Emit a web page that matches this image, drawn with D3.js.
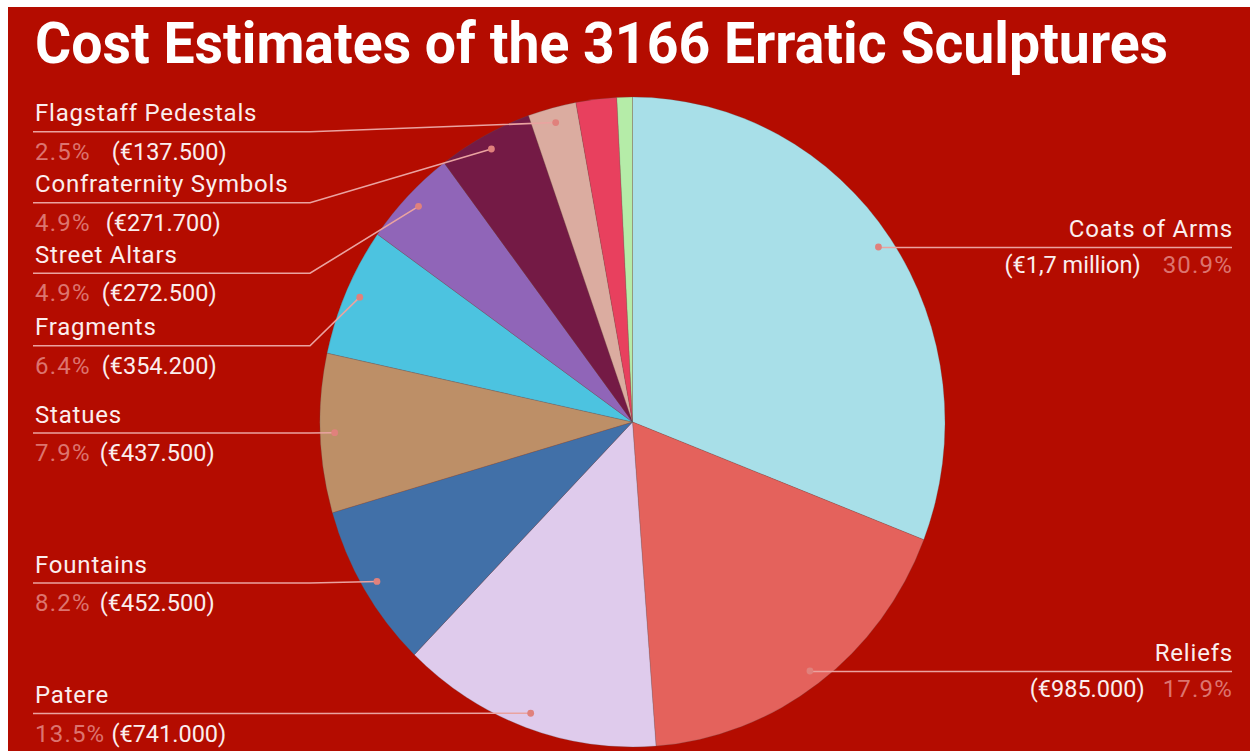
<!DOCTYPE html>
<html>
<head>
<meta charset="utf-8">
<script src="https://cdn.jsdelivr.net/npm/d3@7"></script>
<style>
  html, body { margin: 0; padding: 0; background: #fff; }
  text { font-family: Roboto, "Noto Sans", sans-serif; }
</style>
</head>
<body>
<div id="chart"></div>
<script>
// chart values
var categories = ["Coats of Arms", "Reliefs", "Patere", "Fountains", "Statues", "Fragments",
  "Street Altars", "Confraternity Symbols", "Flagstaff Pedestals", "Other (red)", "Other (green)"];
var shares = [30.9, 17.9, 13.5, 8.2, 7.9, 6.4, 4.9, 4.9, 2.5, 2.1, 0.8];
var costLabels = ["(€1,7 million)", "(€985.000)", "(€741.000)", "(€452.500)", "(€437.500)",
  "(€354.200)", "(€272.500)", "(€271.700)", "(€137.500)", "", ""];
var sliceColors = ["#a8dfe8", "#e4625c", "#dfcbec", "#4170a8", "#bd8f67", "#4cc3e0",
  "#9065b8", "#741a45", "#dbaca0", "#e8405e", "#b5eca8"];

var svgWidth = 1250;
var svgHeight = 751;

var cx = 632.5, cy = 422;
var rx = 312.5, ry = 325;
var dotR = 298;

// label layout (y of leader line), per slice index; null = no label
var labelLineY = [247.5, 671.5, 713.5, 583, 433, 345.7, 273.3, 202.7, 131.7, null, null];
var labelSide = ["right", "right", "left", "left", "left", "left", "left", "left", "left", null, null];
var valueGap = [22, 18, 6, 9, 9, 11, 11, 15, 21, 0, 0];

var data = categories.map(function(c, i) {
  return { name: c, share: shares[i], cost: costLabels[i], color: sliceColors[i],
    lineY: labelLineY[i], side: labelSide[i], gap: valueGap[i] };
});

var svg = d3.select("#chart")
  .append("svg")
  .attr("width", svgWidth)
  .attr("height", svgHeight);

svg.append("rect")
  .attr("x", 8)
  .attr("y", 7)
  .attr("width", svgWidth - 8)
  .attr("height", svgHeight - 7)
  .attr("fill", "#b40c00");

svg.append("text")
  .attr("x", 35)
  .attr("y", 63)
  .attr("font-size", "58px")
  .attr("font-weight", "bold")
  .attr("fill", "#fff")
  .attr("textLength", 1133)
  .attr("lengthAdjust", "spacingAndGlyphs")
  .text("Cost Estimates of the 3166 Erratic Sculptures");

var pie = d3.pie()
  .sort(null)
  .value(function(d) { return d.share; });

var arcs = pie(data);

var arc = d3.arc()
  .innerRadius(0)
  .outerRadius(rx);

var pieGroup = svg.append("g")
  .attr("transform", `translate(${cx}, ${cy}) scale(1, ${ry / rx})`);

pieGroup.selectAll("path")
  .data(arcs)
  .enter()
  .append("path")
  .attr("d", arc)
  .attr("fill", function(d) { return d.data.color; })
  .attr("stroke", "rgba(90,90,90,0.3)")
  .attr("stroke-width", 0.8);

// leader lines + labels
var labelled = arcs.filter(function(d) { return d.data.side; });

labelled.forEach(function(d) {
  var a = (d.startAngle + d.endAngle) / 2;
  var px = cx + dotR * Math.sin(a);
  var py = cy - dotR * (ry / rx) * Math.cos(a);
  var pts;
  if (d.data.side === "left") {
    var elbow = Math.min(310, px);
    pts = [[33, d.data.lineY], [elbow, d.data.lineY], [px, py]];
  } else {
    pts = [[px, py], [px, d.data.lineY], [1232, d.data.lineY]];
  }
  svg.append("path")
    .attr("d", d3.line()(pts))
    .attr("fill", "none")
    .attr("stroke", "#eaa3a0")
    .attr("stroke-width", 1.6);

  svg.append("circle")
    .attr("cx", px)
    .attr("cy", py)
    .attr("r", 3.4)
    .attr("fill", "#e0817c");

  var pct = d3.format(".1f")(d.data.share) + "%";
  var left = d.data.side === "left";

  svg.append("text")
    .attr("x", left ? 35 : 1233)
    .attr("y", d.data.lineY - 10.5)
    .attr("text-anchor", left ? "start" : "end")
    .attr("font-size", "24px")
    .attr("letter-spacing", "0.8px")
    .attr("fill", "#fbeeee")
    .text(d.data.name);

  var rowY = left ? d.data.lineY + 28 : d.data.lineY + 25.5;

  var pctText = svg.append("text")
    .attr("x", left ? 35 : 1233)
    .attr("y", rowY)
    .attr("text-anchor", left ? "start" : "end")
    .attr("font-size", "24px")
    .attr("letter-spacing", "1.2px")
    .attr("fill", "#dc746f")
    .text(pct);
  var pw = pctText.node().getComputedTextLength();

  svg.append("text")
    .attr("x", left ? 35 + pw + d.data.gap : 1233 - pw - d.data.gap)
    .attr("y", rowY)
    .attr("text-anchor", left ? "start" : "end")
    .attr("font-size", "23.5px")
    .attr("fill", "#fbeeee")
    .text(d.data.cost);
});
</script>
</body>
</html>
